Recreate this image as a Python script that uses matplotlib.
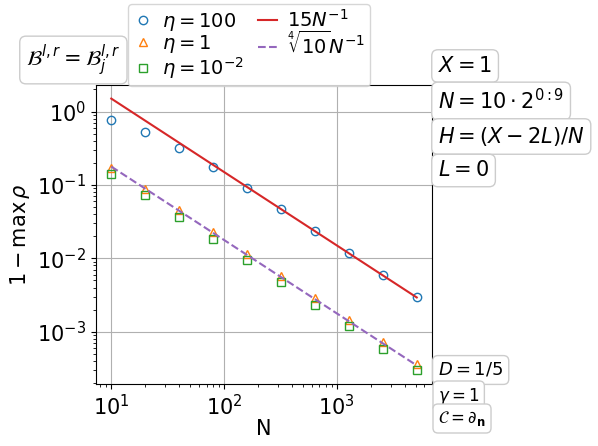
import numpy as np
import matplotlib
matplotlib.use('Agg')
import matplotlib.pyplot as plt

# Data
N = np.array([10, 20, 40, 80, 160, 320, 640, 1280, 2560, 5120])
err_eta100 = [0.77, 0.53, 0.32, 0.173, 0.092, 0.0469, 0.0234, 0.0119, 0.0059, 0.00295]
err_eta1 = [0.168, 0.087, 0.0455, 0.0227, 0.01156, 0.00571, 0.00285, 0.00145, 0.000724, 0.000358]
err_eta001 = [0.142, 0.0725, 0.037, 0.01845, 0.0094, 0.00469, 0.00232, 0.00118, 0.000589, 0.000297]
ref_fast = 15.0 / N
ref_slow = 10 ** 0.25 / N

fig = plt.figure(figsize=(5.98, 4.46), dpi=100)
ax = fig.add_axes([96 / 598, 1 - 384 / 446, (432 - 96) / 598, (384 - 85) / 446])

h1, = ax.loglog(N, err_eta100, 'o', mfc='none', color='C0', label=r'$\eta=100$')
h2, = ax.loglog(N, err_eta1, '^', mfc='none', color='C1', label=r'$\eta=1$')
h3, = ax.loglog(N, err_eta001, 's', mfc='none', color='C2', label=r'$\eta=10^{-2}$')
h4, = ax.loglog(N, ref_fast, '-', color='C3', label=r'$15N^{-1}$')
h5, = ax.loglog(N, ref_slow, '--', color='C4', label=r'$\sqrt[4]{10}N^{-1}$')

ax.grid(True, which='major')
ax.set_xlabel('N', fontsize=15, labelpad=0)
ax.set_ylabel(r'$1-\max\,\rho$', fontsize=15)
ax.tick_params(labelsize=15)

# legend sits above the axes, partly over the top frame
fig.legend(handles=[h1, h2, h3, h4, h5], ncol=2, fontsize=14, loc='upper left',
           bbox_to_anchor=(128 / 598, 1 - 4 / 446), borderaxespad=0,
           handlelength=1.0, handletextpad=0.5, columnspacing=0.7,
           labelspacing=0.0, borderpad=0.25)

box = dict(boxstyle='round,pad=0.3', fc='white', ec='0.8')
fig.text(26 / 598, 1 - 60 / 446, r'$\mathcal{B}^{l,r}=\mathcal{B}_j^{l,r}$',
         fontsize=15, va='center', ha='left', bbox=box)

# parameter boxes on the right
right_texts = [r'$X=1$', r'$N=10\cdot2^{0:9}$', r'$H=(X-2L)/N$', r'$L=0$']
right_y = [66, 101, 136.5, 170.5]
for t, yy in zip(right_texts, right_y):
    fig.text(438 / 598, 1 - yy / 446, t, fontsize=15, va='center', ha='left', bbox=box)

fig.text(438 / 598, 1 - 370 / 446, r'$D=1/5$', fontsize=13, va='center', ha='left', bbox=box)
fig.text(438 / 598, 1 - 396.5 / 446, r'$\gamma=1$', fontsize=12, va='center', ha='left', bbox=box)
fig.text(438 / 598, 1 - 418.5 / 446, r'$\mathcal{C}=\partial_{\mathbf{n}}$', fontsize=12,
         va='center', ha='left', bbox=box)

fig.savefig('out.png', dpi=100)
